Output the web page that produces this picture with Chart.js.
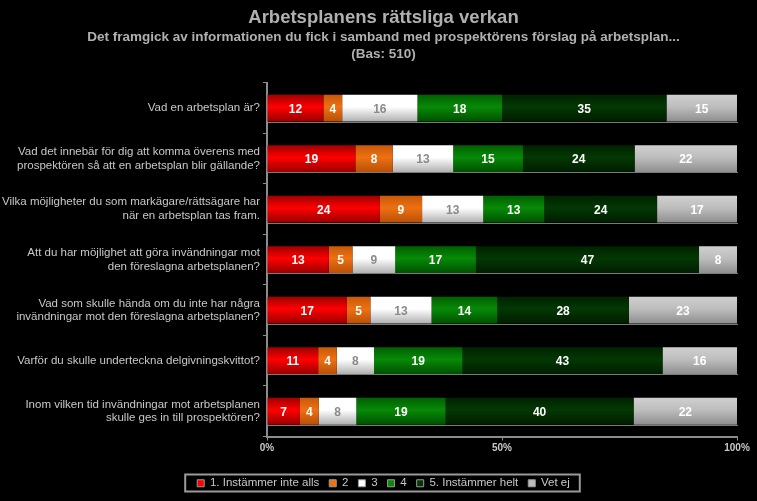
<!DOCTYPE html>
<html>
<head>
<meta charset="utf-8">
<script src="https://cdn.jsdelivr.net/npm/chart.js@4"></script>
<style>
  html, body { margin: 0; padding: 0; background: #000; }
  #wrap { width: 757px; height: 501px; }
</style>
</head>
<body>
<div id="wrap"><canvas id="chart" width="757" height="501"></canvas></div>
<script>
// frågor (kategorier)
const questions = [
  ['Vad en arbetsplan är?'],
  ['Vad det innebär för dig att komma överens med', 'prospektören så att en arbetsplan blir gällande?'],
  ['Vilka möjligheter du som markägare/rättsägare har', 'när en arbetsplan tas fram.'],
  ['Att du har möjlighet att göra invändningar mot', 'den föreslagna arbetsplanen?'],
  ['Vad som skulle hända om du inte har några', 'invändningar mot den föreslagna arbetsplanen?'],
  ['Varför du skulle underteckna delgivningskvittot?'],
  ['Inom vilken tid invändningar mot arbetsplanen', 'skulle ges in till prospektören?']
];

// svar i procent, per skalsteg
const s1 = [12, 19, 24, 13, 17, 11, 7];
const s2 = [4, 8, 9, 5, 5, 4, 4];
const s3 = [16, 13, 13, 9, 13, 8, 8];
const s4 = [18, 15, 13, 17, 14, 19, 19];
const s5 = [35, 24, 24, 47, 28, 43, 40];
const vetEj = [15, 22, 17, 8, 23, 16, 22];

const seriesNames = ['1. Instämmer inte alls', '2', '3', '4', '5. Instämmer helt', 'Vet ej'];
const xTicks = [0, 50, 100];

const rows = [s1, s2, s3, s4, s5, vetEj];
const totals = questions.map((q, i) => rows.reduce((a, r) => a + r[i], 0));

// färger: [topp, mitt, botten]
const shades = [
  ['#a00000', '#ff0000', '#980000'],
  ['#c85a08', '#ee7012', '#b85008'],
  ['#ffffff', '#ffffff', '#b0b0b0'],
  ['#006000', '#078a07', '#005000'],
  ['#002200', '#033803', '#001c00'],
  ['#cfcfcf', '#bdbdbd', '#8e8e8e']
];
const textColors = ['#fff', '#fff', '#8a8a8a', '#fff', '#fff', '#fff'];
const catPct = 0.53;
const FONT = '"Liberation Sans", Arial, sans-serif';

function barFill(si) {
  return ctx => {
    const chart = ctx.chart;
    const y = chart.scales && chart.scales.y;
    if (ctx.type !== 'data' || !y || !y.height) return shades[si][1];
    const c = y.getPixelForValue(ctx.dataIndex);
    const half = (y.height / questions.length) * catPct / 2;
    const g = chart.ctx.createLinearGradient(0, c - half, 0, c + half);
    g.addColorStop(0, shades[si][0]);
    g.addColorStop(0.45, shades[si][1]);
    g.addColorStop(1, shades[si][2]);
    return g;
  };
}

const datasets = rows.map((r, si) => ({
  label: seriesNames[si],
  data: r.map((v, i) => v / totals[i] * 100),
  raw: r,
  backgroundColor: barFill(si),
  borderWidth: 0,
  categoryPercentage: catPct,
  barPercentage: 1
}));

// siffror i staplarna + "golv"-linje
const barLabels = {
  id: 'barLabels',
  beforeDatasetsDraw(chart) {
    const { ctx, chartArea, scales } = chart;
    const half = (scales.y.height / questions.length) * catPct / 2;
    ctx.save();
    ctx.strokeStyle = '#7a7a7a';
    ctx.lineWidth = 1;
    questions.forEach((q, i) => {
      const yy = Math.round(scales.y.getPixelForValue(i) + half) + 0.5;
      ctx.beginPath();
      ctx.moveTo(chartArea.left + 1, yy);
      ctx.lineTo(chartArea.right + 1, yy);
      ctx.stroke();
    });
    ctx.restore();
  },
  afterDatasetsDraw(chart) {
    const { ctx } = chart;
    ctx.save();
    ctx.font = 'bold 12px ' + FONT;
    ctx.textAlign = 'center';
    ctx.textBaseline = 'middle';
    chart.data.datasets.forEach((ds, si) => {
      chart.getDatasetMeta(si).data.forEach((el, i) => {
        ctx.fillStyle = textColors[si];
        ctx.fillText(ds.raw[i], (el.x + el.base) / 2, el.y + 1);
      });
    });
    ctx.restore();
  }
};

// långa frågetexter får gå ut i vänstermarginalen
const labelRoom = {
  id: 'labelRoom',
  afterLayout(chart) {
    chart.scales.y.left = 0;
  }
};

// ram runt legenden
const legendBox = {
  id: 'legendBox',
  afterDraw(chart) {
    const boxes = chart.legend && chart.legend.legendHitBoxes;
    if (!boxes || !boxes.length) return;
    const l = Math.min(...boxes.map(b => b.left)) - 12;
    const r = Math.max(...boxes.map(b => b.left + b.width)) + 10;
    const t = boxes[0].top - 3;
    const ctx = chart.ctx;
    ctx.save();
    ctx.strokeStyle = '#9a9a9a';
    ctx.lineWidth = 2;
    ctx.strokeRect(l, t, r - l, 17);
    ctx.restore();
  }
};

const bg = {
  id: 'bg',
  beforeDraw(chart) {
    const ctx = chart.ctx;
    ctx.save();
    ctx.fillStyle = '#000';
    ctx.fillRect(0, 0, chart.width, chart.height);
    ctx.restore();
  }
};

new Chart(document.getElementById('chart'), {
  type: 'bar',
  data: { labels: questions, datasets },
  plugins: [bg, labelRoom, barLabels, legendBox],
  options: {
    indexAxis: 'y',
    responsive: false,
    animation: false,
    layout: { padding: { left: 30, right: 20, top: 0, bottom: 2 } },
    scales: {
      x: {
        stacked: true,
        min: 0,
        max: 100,
        afterBuildTicks: s => { s.ticks = xTicks.map(v => ({ value: v })); },
        border: { color: '#8c8c8c', width: 2 },
        grid: { drawOnChartArea: false, color: '#8c8c8c', tickLength: 4 },
        ticks: {
          color: '#c8c8c8',
          font: { family: FONT, size: 10, weight: 'bold' },
          padding: 2,
          callback: v => v + '%'
        },
        afterFit: s => { s.height = 31; }
      },
      y: {
        stacked: true,
        border: { color: '#8c8c8c', width: 2 },
        grid: { drawOnChartArea: false, color: '#8c8c8c', tickLength: 4, offset: true },
        ticks: {
          color: '#c8c8c8',
          font: { family: FONT, size: 11.5 },
          padding: 3
        },
        afterFit: s => { s.width = 237; }
      }
    },
    plugins: {
      title: {
        display: true,
        text: 'Arbetsplanens rättsliga verkan',
        color: '#b0b0b0',
        font: { family: FONT, size: 18.5, weight: 'bold' },
        padding: { top: 7, bottom: 0 }
      },
      subtitle: {
        display: true,
        text: ['Det framgick av informationen du fick i samband med prospektörens förslag på arbetsplan...', '(Bas: 510)'],
        color: '#b0b0b0',
        font: { family: FONT, size: 13.5, weight: 'bold', lineHeight: 1.25 },
        padding: { top: 0, bottom: 20 }
      },
      legend: {
        position: 'bottom',
        labels: {
          color: '#c8c8c8',
          boxWidth: 7,
          boxHeight: 7,
          padding: 10,
          font: { family: FONT, size: 11.5 },
          generateLabels: chart => chart.data.datasets.map((ds, i) => ({
            text: ds.label,
            fillStyle: shades[i][1],
            strokeStyle: '#9a9a9a',
            lineWidth: 1,
            fontColor: '#c8c8c8',
            datasetIndex: i
          }))
        }
      },
      tooltip: { enabled: false }
    }
  }
});
</script>
</body>
</html>
